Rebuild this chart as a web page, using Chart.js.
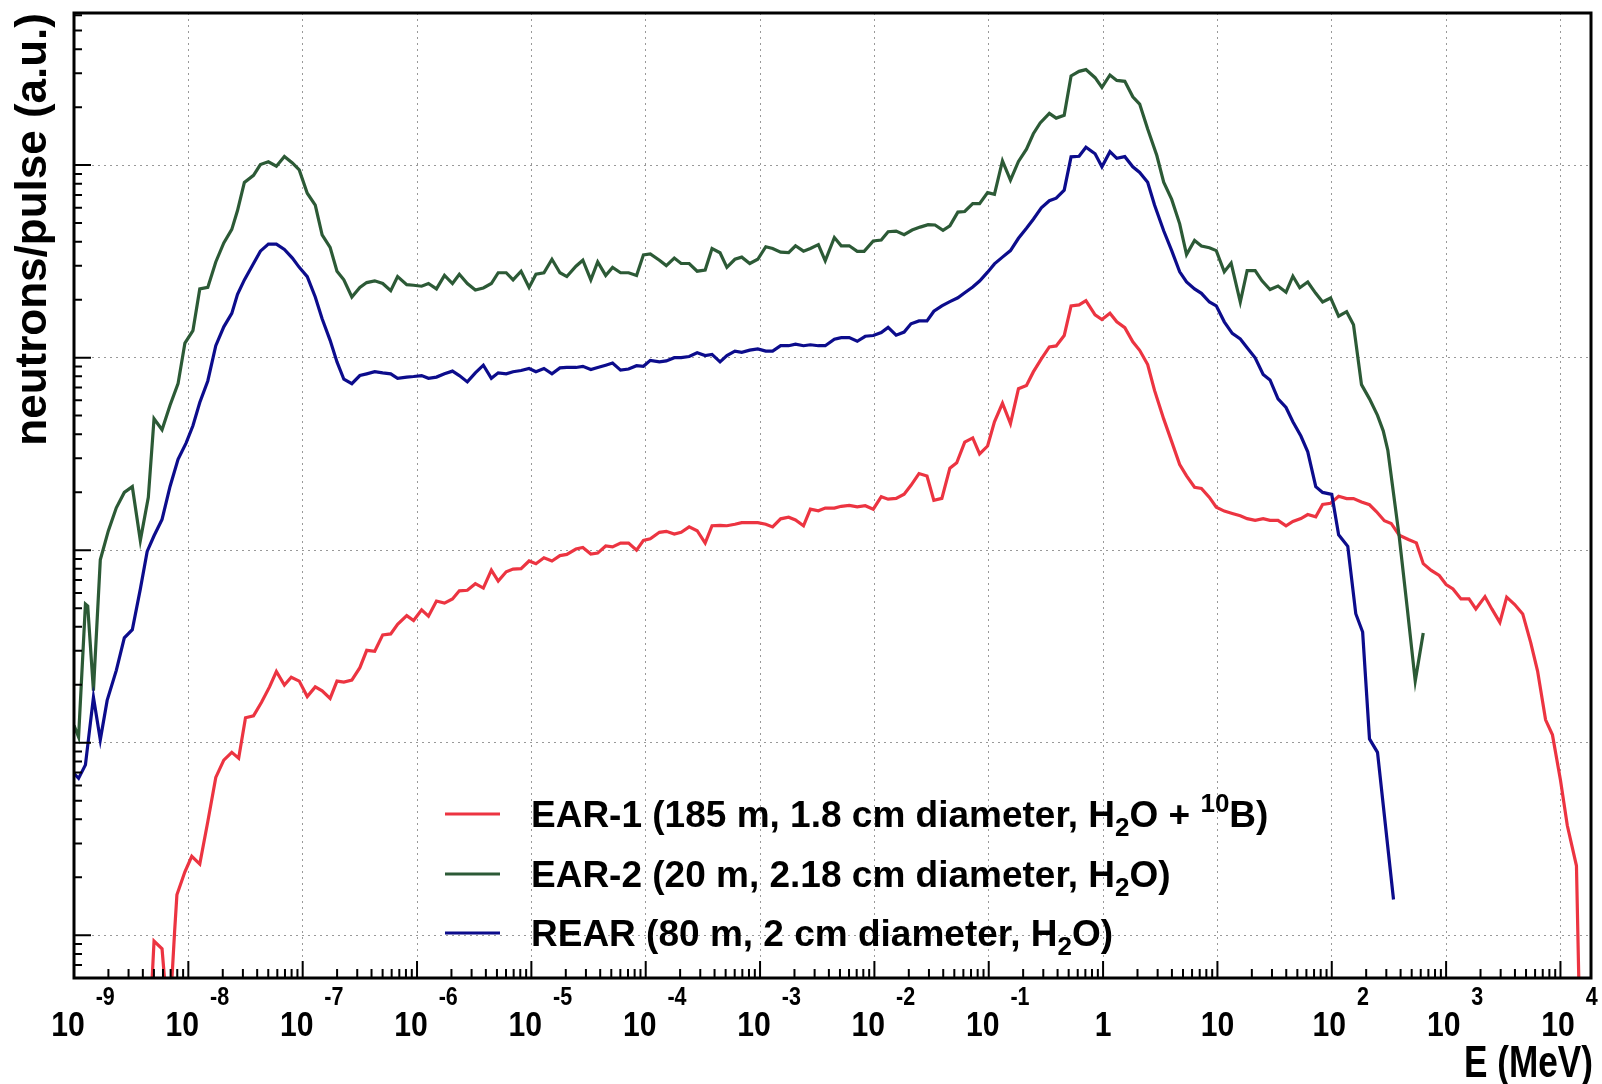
<!DOCTYPE html>
<html>
<head>
<meta charset="utf-8">
<script src="https://cdn.jsdelivr.net/npm/chart.js@4/dist/chart.umd.min.js"></script>
<style>
  html, body { margin: 0; padding: 0; background: #fff; }
</style>
</head>
<body>
<canvas id="spectrum" width="1602" height="1084"></canvas>
<script>
// points are [log10(E / MeV), log10(neutrons/pulse, a.u.)]
const ear1 = [
  [-8.34, -0.5], [-8.30, -0.03], [-8.23, -0.07], [-8.17, -0.5], [-8.12, 0.02], [-8.10, 0.21],
  [-8.03, 0.33], [-7.97, 0.41], [-7.90, 0.37], [-7.83, 0.59], [-7.76, 0.82], [-7.69, 0.91],
  [-7.62, 0.95], [-7.56, 0.92], [-7.50, 1.13], [-7.43, 1.14], [-7.36, 1.21], [-7.29, 1.29],
  [-7.23, 1.37], [-7.16, 1.30], [-7.10, 1.34], [-7.03, 1.32], [-6.96, 1.24], [-6.89, 1.29],
  [-6.83, 1.27], [-6.76, 1.23], [-6.70, 1.32], [-6.64, 1.315], [-6.57, 1.325], [-6.50, 1.39],
  [-6.44, 1.48], [-6.37, 1.475], [-6.30, 1.56], [-6.23, 1.565], [-6.17, 1.615], [-6.09, 1.66],
  [-6.03, 1.635], [-5.96, 1.69], [-5.90, 1.657], [-5.83, 1.736], [-5.76, 1.725], [-5.69, 1.747],
  [-5.63, 1.789], [-5.56, 1.792], [-5.49, 1.826], [-5.42, 1.803], [-5.35, 1.896], [-5.29, 1.84],
  [-5.22, 1.888], [-5.16, 1.902], [-5.09, 1.904], [-5.02, 1.944], [-4.96, 1.93], [-4.89, 1.961],
  [-4.82, 1.944], [-4.75, 1.972], [-4.69, 1.978], [-4.61, 2.006], [-4.55, 2.014], [-4.48, 1.98],
  [-4.42, 1.985], [-4.35, 2.022], [-4.29, 2.017], [-4.22, 2.037], [-4.15, 2.037], [-4.08, 2.0],
  [-4.02, 2.051], [-3.96, 2.059], [-3.88, 2.093], [-3.82, 2.098], [-3.75, 2.084], [-3.69, 2.093],
  [-3.62, 2.121], [-3.55, 2.101], [-3.48, 2.037], [-3.42, 2.127], [-3.35, 2.129], [-3.29, 2.127],
  [-3.22, 2.135], [-3.16, 2.143], [-3.09, 2.143], [-3.02, 2.143], [-2.95, 2.135], [-2.89, 2.121],
  [-2.82, 2.163], [-2.75, 2.171], [-2.69, 2.157], [-2.62, 2.127], [-2.56, 2.213], [-2.49, 2.205],
  [-2.43, 2.219], [-2.35, 2.219], [-2.29, 2.228], [-2.22, 2.233], [-2.15, 2.225], [-2.08, 2.231],
  [-2.01, 2.213], [-1.94, 2.278], [-1.88, 2.265], [-1.81, 2.269], [-1.74, 2.291], [-1.68, 2.337],
  [-1.61, 2.398], [-1.54, 2.385], [-1.48, 2.259], [-1.41, 2.269], [-1.34, 2.426], [-1.28, 2.454],
  [-1.21, 2.561], [-1.14, 2.583], [-1.08, 2.5], [-1.01, 2.541], [-0.95, 2.667], [-0.88, 2.763],
  [-0.81, 2.657], [-0.74, 2.839], [-0.67, 2.856], [-0.61, 2.926], [-0.54, 2.994], [-0.47, 3.056],
  [-0.41, 3.061], [-0.34, 3.115], [-0.28, 3.269], [-0.21, 3.274], [-0.15, 3.296], [-0.07, 3.222],
  [-0.01, 3.198], [0.06, 3.231], [0.12, 3.186], [0.19, 3.156], [0.26, 3.082], [0.32, 3.038],
  [0.39, 2.964], [0.45, 2.83], [0.53, 2.682], [0.60, 2.564], [0.67, 2.445], [0.73, 2.386],
  [0.80, 2.327], [0.86, 2.321], [0.93, 2.274], [0.99, 2.223], [1.06, 2.203], [1.13, 2.191],
  [1.20, 2.179], [1.26, 2.164], [1.33, 2.155], [1.40, 2.164], [1.46, 2.155], [1.53, 2.155],
  [1.60, 2.126], [1.66, 2.149], [1.73, 2.164], [1.79, 2.185], [1.86, 2.173], [1.92, 2.238],
  [1.99, 2.244], [2.06, 2.28], [2.13, 2.268], [2.19, 2.268], [2.26, 2.25], [2.33, 2.236],
  [2.39, 2.201], [2.46, 2.153], [2.52, 2.139], [2.59, 2.078], [2.67, 2.056], [2.74, 2.038],
  [2.80, 1.93], [2.87, 1.895], [2.94, 1.869], [3.00, 1.822], [3.06, 1.799], [3.13, 1.747],
  [3.20, 1.747], [3.26, 1.695], [3.34, 1.759], [3.40, 1.695], [3.47, 1.625], [3.53, 1.756],
  [3.60, 1.718], [3.67, 1.669], [3.74, 1.52], [3.80, 1.372], [3.87, 1.119], [3.93, 1.041],
  [4.00, 0.806], [4.06, 0.57], [4.14, 0.361], [4.17, -0.5]
];

const ear2 = [
  [-9.00, 1.09], [-8.96, 1.03], [-8.90, 1.72], [-8.88, 1.71], [-8.83, 1.27], [-8.77, 1.95],
  [-8.70, 2.10], [-8.63, 2.22], [-8.56, 2.30], [-8.49, 2.33], [-8.42, 2.05], [-8.35, 2.275],
  [-8.30, 2.683], [-8.23, 2.626], [-8.16, 2.753], [-8.09, 2.865], [-8.03, 3.076], [-7.96, 3.14],
  [-7.90, 3.357], [-7.83, 3.365], [-7.76, 3.497], [-7.69, 3.596], [-7.62, 3.666], [-7.57, 3.764],
  [-7.51, 3.91], [-7.43, 3.947], [-7.37, 4.003], [-7.30, 4.017], [-7.23, 3.994], [-7.16, 4.045],
  [-7.09, 4.011], [-7.03, 3.975], [-6.96, 3.854], [-6.89, 3.792], [-6.83, 3.638], [-6.76, 3.573],
  [-6.70, 3.449], [-6.64, 3.404], [-6.57, 3.315], [-6.50, 3.365], [-6.44, 3.39], [-6.37, 3.399],
  [-6.30, 3.385], [-6.23, 3.348], [-6.17, 3.421], [-6.09, 3.379], [-6.03, 3.376], [-5.96, 3.371],
  [-5.90, 3.385], [-5.83, 3.357], [-5.76, 3.427], [-5.69, 3.385], [-5.63, 3.433], [-5.56, 3.385],
  [-5.49, 3.351], [-5.42, 3.362], [-5.35, 3.385], [-5.29, 3.441], [-5.22, 3.441], [-5.16, 3.404],
  [-5.09, 3.449], [-5.02, 3.365], [-4.96, 3.433], [-4.89, 3.441], [-4.82, 3.511], [-4.75, 3.441],
  [-4.69, 3.421], [-4.61, 3.475], [-4.55, 3.506], [-4.48, 3.404], [-4.42, 3.497], [-4.35, 3.427],
  [-4.29, 3.469], [-4.22, 3.441], [-4.15, 3.441], [-4.08, 3.427], [-4.02, 3.534], [-3.96, 3.539],
  [-3.88, 3.506], [-3.82, 3.478], [-3.75, 3.517], [-3.69, 3.489], [-3.62, 3.489], [-3.55, 3.449],
  [-3.48, 3.455], [-3.42, 3.567], [-3.35, 3.545], [-3.29, 3.469], [-3.22, 3.511], [-3.16, 3.522],
  [-3.09, 3.489], [-3.02, 3.511], [-2.95, 3.576], [-2.89, 3.567], [-2.82, 3.548], [-2.75, 3.545],
  [-2.69, 3.581], [-2.62, 3.553], [-2.56, 3.567], [-2.49, 3.587], [-2.43, 3.503], [-2.35, 3.624],
  [-2.29, 3.581], [-2.22, 3.581], [-2.15, 3.552], [-2.09, 3.552], [-2.01, 3.606], [-1.94, 3.611],
  [-1.88, 3.654], [-1.81, 3.657], [-1.74, 3.639], [-1.67, 3.663], [-1.60, 3.678], [-1.53, 3.691],
  [-1.47, 3.689], [-1.40, 3.661], [-1.34, 3.685], [-1.27, 3.756], [-1.21, 3.759], [-1.14, 3.8],
  [-1.08, 3.8], [-1.01, 3.857], [-0.95, 3.848], [-0.88, 4.022], [-0.81, 3.922], [-0.74, 4.019],
  [-0.67, 4.083], [-0.61, 4.163], [-0.55, 4.219], [-0.47, 4.269], [-0.41, 4.244], [-0.34, 4.259],
  [-0.28, 4.463], [-0.21, 4.487], [-0.15, 4.496], [-0.07, 4.454], [-0.01, 4.404], [0.06, 4.468],
  [0.12, 4.44], [0.19, 4.435], [0.26, 4.355], [0.32, 4.317], [0.39, 4.187], [0.47, 4.05],
  [0.53, 3.911], [0.60, 3.822], [0.67, 3.695], [0.73, 3.535], [0.80, 3.609], [0.86, 3.58],
  [0.93, 3.571], [0.99, 3.556], [1.06, 3.446], [1.12, 3.491], [1.20, 3.289], [1.26, 3.452],
  [1.33, 3.452], [1.39, 3.399], [1.46, 3.354], [1.53, 3.372], [1.60, 3.34], [1.66, 3.423],
  [1.72, 3.363], [1.79, 3.393], [1.86, 3.334], [1.92, 3.289], [1.99, 3.31], [2.06, 3.215],
  [2.13, 3.239], [2.19, 3.171], [2.26, 2.86], [2.33, 2.786], [2.40, 2.70], [2.45, 2.62],
  [2.49, 2.52], [2.59, 2.07], [2.66, 1.70], [2.73, 1.32], [2.80, 1.57]
];

const rear = [
  [-9.00, 0.84], [-8.96, 0.815], [-8.90, 0.885], [-8.83, 1.236], [-8.77, 1.015], [-8.71, 1.22],
  [-8.63, 1.376], [-8.56, 1.545], [-8.49, 1.587], [-8.42, 1.798], [-8.36, 1.994], [-8.30, 2.075],
  [-8.23, 2.16], [-8.16, 2.331], [-8.09, 2.472], [-8.02, 2.556], [-7.96, 2.646], [-7.90, 2.767],
  [-7.83, 2.879], [-7.76, 3.062], [-7.69, 3.16], [-7.62, 3.23], [-7.57, 3.329], [-7.51, 3.404],
  [-7.43, 3.489], [-7.37, 3.553], [-7.30, 3.59], [-7.23, 3.59], [-7.16, 3.562], [-7.09, 3.517],
  [-7.03, 3.469], [-6.96, 3.421], [-6.89, 3.315], [-6.83, 3.202], [-6.76, 3.09], [-6.70, 2.978],
  [-6.64, 2.888], [-6.57, 2.865], [-6.50, 2.907], [-6.44, 2.916], [-6.37, 2.927], [-6.30, 2.921],
  [-6.23, 2.916], [-6.17, 2.893], [-6.09, 2.899], [-6.03, 2.902], [-5.96, 2.907], [-5.90, 2.893],
  [-5.83, 2.899], [-5.76, 2.916], [-5.69, 2.93], [-5.63, 2.907], [-5.56, 2.874], [-5.49, 2.921],
  [-5.42, 2.961], [-5.35, 2.893], [-5.29, 2.921], [-5.22, 2.916], [-5.16, 2.927], [-5.09, 2.933],
  [-5.02, 2.944], [-4.96, 2.927], [-4.89, 2.944], [-4.82, 2.916], [-4.75, 2.947], [-4.69, 2.949],
  [-4.61, 2.949], [-4.55, 2.955], [-4.48, 2.938], [-4.42, 2.949], [-4.35, 2.961], [-4.29, 2.972],
  [-4.22, 2.935], [-4.15, 2.941], [-4.08, 2.958], [-4.02, 2.955], [-3.96, 2.986], [-3.88, 2.978],
  [-3.82, 2.983], [-3.75, 3.0], [-3.69, 3.0], [-3.62, 3.006], [-3.55, 3.025], [-3.48, 3.011],
  [-3.42, 3.017], [-3.35, 2.978], [-3.29, 3.011], [-3.22, 3.034], [-3.16, 3.028], [-3.09, 3.039],
  [-3.02, 3.045], [-2.95, 3.034], [-2.89, 3.034], [-2.82, 3.062], [-2.75, 3.062], [-2.69, 3.07],
  [-2.62, 3.062], [-2.56, 3.067], [-2.49, 3.062], [-2.43, 3.062], [-2.35, 3.096], [-2.29, 3.104],
  [-2.22, 3.104], [-2.15, 3.085], [-2.08, 3.111], [-2.01, 3.115], [-1.94, 3.13], [-1.88, 3.157],
  [-1.81, 3.117], [-1.74, 3.133], [-1.68, 3.176], [-1.61, 3.191], [-1.54, 3.191], [-1.48, 3.241],
  [-1.41, 3.269], [-1.34, 3.291], [-1.27, 3.311], [-1.21, 3.337], [-1.14, 3.367], [-1.08, 3.398],
  [-1.01, 3.444], [-0.95, 3.487], [-0.88, 3.522], [-0.81, 3.556], [-0.74, 3.62], [-0.67, 3.672],
  [-0.61, 3.719], [-0.54, 3.778], [-0.47, 3.815], [-0.41, 3.828], [-0.34, 3.87], [-0.28, 4.043],
  [-0.21, 4.046], [-0.15, 4.093], [-0.07, 4.059], [-0.01, 3.991], [0.06, 4.07], [0.12, 4.035],
  [0.19, 4.044], [0.26, 3.991], [0.32, 3.962], [0.39, 3.911], [0.45, 3.793], [0.53, 3.659],
  [0.60, 3.556], [0.67, 3.446], [0.73, 3.393], [0.80, 3.357], [0.86, 3.334], [0.93, 3.289],
  [0.99, 3.269], [1.06, 3.186], [1.13, 3.126], [1.20, 3.097], [1.26, 3.052], [1.33, 2.999],
  [1.40, 2.913], [1.46, 2.884], [1.53, 2.786], [1.60, 2.741], [1.66, 2.667], [1.73, 2.593],
  [1.79, 2.511], [1.86, 2.33], [1.92, 2.30], [2.00, 2.29], [2.06, 2.08], [2.14, 2.02],
  [2.21, 1.67], [2.27, 1.575], [2.33, 1.02], [2.40, 0.95], [2.54, 0.186]
];

const xDecades = [-9, -8, -7, -6, -5, -4, -3, -2, -1, 0, 1, 2, 3, 4];
const yDecades = [0, 1, 2, 3, 4];

const seriesNames = [
  [['EAR-1 (185 m, 1.8 cm diameter, H', ''], ['2', 'sub'], ['O + ', ''], ['10', 'sup'], ['B)', '']],
  [['EAR-2 (20 m, 2.18 cm diameter, H', ''], ['2', 'sub'], ['O)', '']],
  [['REAR (80 m, 2 cm diameter, H', ''], ['2', 'sub'], ['O)', '']]
];
const seriesColors = ['#ec3441', '#2c5a36', '#0c0c8c'];

const FONT = '"Liberation Sans", Arial, Helvetica, sans-serif';

function toPoints(pairs) {
  return pairs.map(p => ({ x: Math.pow(10, p[0]), y: Math.pow(10, p[1]) }));
}

// text squeezed horizontally by sx, left edge at x
function squeezed(ctx, txt, x, y, size, sx) {
  ctx.save();
  ctx.font = 'bold ' + size + 'px ' + FONT;
  ctx.translate(x, y);
  ctx.scale(sx, 1);
  ctx.textAlign = 'left';
  ctx.fillText(txt, 0, 0);
  ctx.restore();
}
function squeezedWidth(ctx, txt, size, sx) {
  ctx.font = 'bold ' + size + 'px ' + FONT;
  return ctx.measureText(txt).width * sx;
}

const decorations = {
  id: 'decorations',
  afterDraw(chart) {
    const ctx = chart.ctx;
    const a = chart.chartArea;
    const xs = chart.scales.x;
    const ys = chart.scales.y;
    ctx.save();

    // ticks on the bottom and left sides, pointing inwards
    ctx.strokeStyle = '#000';
    ctx.lineWidth = 2;
    ctx.beginPath();
    for (let d = xDecades[0] - 1; d <= xDecades[xDecades.length - 1]; d++) {
      for (let k = 1; k <= 9; k++) {
        const v = k * Math.pow(10, d);
        if (v < xs.min || v > xs.max) continue;
        const px = xs.getPixelForValue(v);
        const len = k === 1 ? 17 : 9;
        ctx.moveTo(px, a.bottom);
        ctx.lineTo(px, a.bottom - len);
      }
    }
    for (let d = yDecades[0] - 1; d <= yDecades[yDecades.length - 1] + 1; d++) {
      for (let k = 1; k <= 9; k++) {
        const v = k * Math.pow(10, d);
        if (v < ys.min || v > ys.max) continue;
        const py = ys.getPixelForValue(v);
        const len = k === 1 ? 17 : 8;
        ctx.moveTo(a.left, py);
        ctx.lineTo(a.left + len, py);
      }
    }
    ctx.stroke();

    // frame
    ctx.lineWidth = 3;
    ctx.strokeRect(a.left, a.top, a.right - a.left, a.bottom - a.top);

    // x tick labels, 10 with a raised exponent
    ctx.fillStyle = '#000';
    ctx.textBaseline = 'alphabetic';
    const bSize = 35, eSize = 25, sx = 0.86;
    for (const d of xDecades) {
      const px = xs.getPixelForValue(Math.pow(10, d));
      if (d === 0 || d === 1) {
        const t = d === 0 ? '1' : '10';
        squeezed(ctx, t, px - squeezedWidth(ctx, t, bSize, sx) / 2, 1036, bSize, sx);
        continue;
      }
      const exp = String(d);
      const wb = squeezedWidth(ctx, '10', bSize, sx);
      const we = squeezedWidth(ctx, exp, eSize, sx);
      const gap = 11;
      const left = px + 9 - (wb + gap + we) / 2;
      squeezed(ctx, '10', left, 1036, bSize, sx);
      squeezed(ctx, exp, left + wb + gap, 1005, eSize, sx);
    }

    // axis titles
    const tw = squeezedWidth(ctx, 'E (MeV)', 44, 0.8);
    squeezed(ctx, 'E (MeV)', a.right + 2 - tw, 1077, 44, 0.8);
    ctx.save();
    ctx.font = 'bold 44px ' + FONT;
    ctx.translate(46, a.top);
    ctx.rotate(-Math.PI / 2);
    ctx.textAlign = 'right';
    ctx.fillText('neutrons/pulse (a.u.)', 0, 0);
    ctx.restore();

    // legend
    const rowY = [814, 874, 933];
    seriesNames.forEach((parts, i) => {
      const cy = rowY[i];
      ctx.strokeStyle = seriesColors[i];
      ctx.lineWidth = 3;
      ctx.beginPath();
      ctx.moveTo(445, cy);
      ctx.lineTo(500, cy);
      ctx.stroke();
      let x = 531;
      ctx.textAlign = 'left';
      for (const [txt, kind] of parts) {
        const size = kind ? 26 : 37;
        const dy = kind === 'sub' ? 9 : kind === 'sup' ? -15 : 0;
        ctx.font = 'bold ' + size + 'px ' + FONT;
        ctx.fillStyle = '#000';
        ctx.fillText(txt, x, cy + 13 + dy);
        x += ctx.measureText(txt).width;
      }
    });

    ctx.restore();
  }
};

const decadeTicks = (list) => (scale) => {
  scale.ticks = list.map(d => ({ value: Math.pow(10, d) }));
};

new Chart(document.getElementById('spectrum'), {
  type: 'line',
  data: {
    datasets: [
      { label: 'EAR-1', data: toPoints(ear1), borderColor: seriesColors[0], order: 3 },
      { label: 'EAR-2', data: toPoints(ear2), borderColor: seriesColors[1], order: 2 },
      { label: 'REAR', data: toPoints(rear), borderColor: seriesColors[2], order: 1 }
    ]
  },
  options: {
    responsive: false,
    animation: false,
    layout: { padding: { left: 74, right: 11, top: 13, bottom: 106 } },
    elements: {
      line: { borderWidth: 3.2, tension: 0, fill: false },
      point: { radius: 0 }
    },
    plugins: {
      legend: { display: false },
      tooltip: { enabled: false }
    },
    scales: {
      x: {
        type: 'logarithmic',
        min: 1e-9,
        max: 1.85e4,
        afterBuildTicks: decadeTicks(xDecades),
        afterFit: (s) => { s.height = 0; },
        ticks: { display: false },
        grid: { color: 'rgba(0,0,0,0.4)', lineWidth: 1, drawTicks: false },
        border: { display: false, dash: [2, 4] }
      },
      y: {
        type: 'logarithmic',
        min: 0.621,
        max: 61660,
        afterBuildTicks: decadeTicks(yDecades),
        afterFit: (s) => { s.width = 0; },
        ticks: { display: false },
        grid: { color: 'rgba(0,0,0,0.4)', lineWidth: 1, drawTicks: false },
        border: { display: false, dash: [2, 4] }
      }
    }
  },
  plugins: [decorations]
});
</script>
</body>
</html>
